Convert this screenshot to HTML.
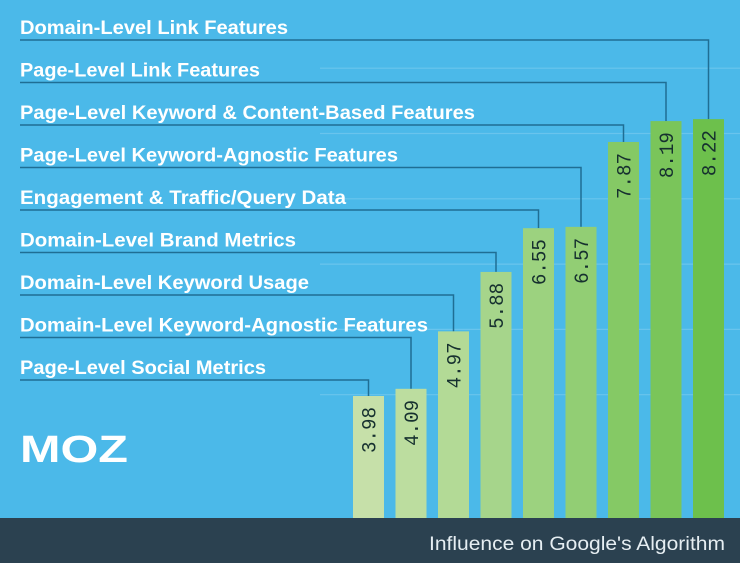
<!DOCTYPE html>
<html><head><meta charset="utf-8"><style>
html,body{margin:0;padding:0;background:#4bb9e9;}
svg{display:block;}
</style></head><body>
<svg id="chart" width="740" height="563" viewBox="0 0 740 563" xmlns="http://www.w3.org/2000/svg">
<rect x="0" y="0" width="740" height="563" fill="#4bb9e9"/>
<g id="grid"></g>
<g id="leaders"></g>
<g id="bars"></g>
<g id="labels"></g>
<text x="20" y="462" font-family="Liberation Sans, sans-serif" font-weight="bold" font-size="38" fill="#fff" textLength="108" lengthAdjust="spacingAndGlyphs">MOZ</text>
<rect x="0" y="518" width="740" height="45" fill="#2b4150"/>
<text x="725" y="550" text-anchor="end" font-family="Liberation Sans, sans-serif" font-size="19" fill="#e6eef2" textLength="296" lengthAdjust="spacingAndGlyphs">Influence on Google's Algorithm</text>
</svg>
<script>
const categories = ["Page-Level Social Metrics","Domain-Level Keyword-Agnostic Features","Domain-Level Keyword Usage","Domain-Level Brand Metrics","Engagement & Traffic/Query Data","Page-Level Keyword-Agnostic Features","Page-Level Keyword & Content-Based Features","Page-Level Link Features","Domain-Level Link Features"];
const values = [3.98, 4.09, 4.97, 5.88, 6.55, 6.57, 7.87, 8.19, 8.22];
const valueLabels = ["3.98","4.09","4.97","5.88","6.55","6.57","7.87","8.19","8.22"];
const gridValues = [4, 5, 6, 7, 8, 9];

const NS = "http://www.w3.org/2000/svg";
const svg = document.getElementById('chart');
function yScale(v){ return 396 - (v - 3.98) * 65.3; }
function xScale(i){ return 353 + i * 42.5; }
const barW = 31, baseY = 518;
const labelWidths = [246, 408, 289, 276, 326, 378, 455, 240, 268];
const barColors = ["#c6e0a9","#bcdd9f","#b3da96","#a6d58b","#9cd27f","#92ce74","#85c965","#7ac55a","#6dc04c"];
function mk(tag, attrs, parent){ const e=document.createElementNS(NS,tag); for(const k in attrs) e.setAttribute(k, attrs[k]); parent.appendChild(e); return e; }

const grid = document.getElementById('grid');
gridValues.forEach(g=>{
  const l = mk('line',{x1:320,x2:740,y1:yScale(g),y2:yScale(g),stroke:"#8fd3f2","stroke-width":1.2,opacity:0.45},grid);
  
  
});

const leaders = document.getElementById('leaders');
const barsG = document.getElementById('bars');
const labelsG = document.getElementById('labels');
const n = categories.length;
categories.forEach((c,i)=>{
  const rank = n-1-i;
  const ly = 40 + rank*42.5;
  const cx = xScale(i) + barW/2;
  const top = yScale(values[i]);
  const p = mk('polyline',{points:`20,${ly} ${cx},${ly} ${cx},${top}`,fill:"none",stroke:"#1f6e94","stroke-width":1.5},leaders);
  
  
  const t = mk('text',{x:20,y:ly-6,"font-family":"Liberation Sans, sans-serif","font-weight":"bold","font-size":19,fill:"#ffffff",textLength:labelWidths[i],lengthAdjust:"spacingAndGlyphs"},labelsG);
  t.textContent = c;
  
  
  const r = mk('rect',{x:xScale(i),y:top,width:barW,height:baseY-top,fill:barColors[i]},barsG);
  
  
  const vx = cx + 7, vy = top + 11;
  const vt = mk('text',{x:vx,y:vy,transform:`rotate(-90 ${vx} ${vy})`,"text-anchor":"end","font-family":"Liberation Mono, monospace","font-size":20,fill:"#16302f",textLength:46,lengthAdjust:"spacingAndGlyphs"},barsG);
  vt.textContent = valueLabels[i];
  
  
});
</script>
</body></html>
